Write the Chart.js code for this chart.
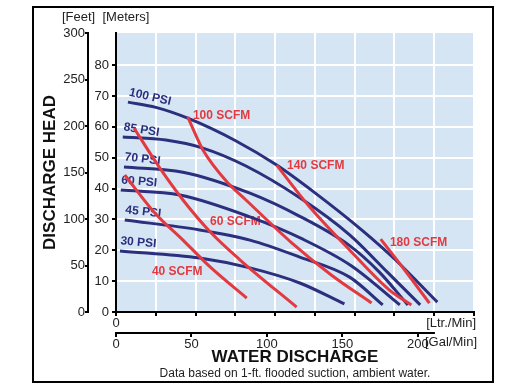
<!DOCTYPE html>
<html>
<head>
<meta charset="utf-8">
<script src="https://cdn.jsdelivr.net/npm/chart.js@4.4.1/dist/chart.umd.min.js"></script>
<style>
  html, body { margin: 0; padding: 0; background: #fff; }
  #wrap { width: 507px; height: 391px; }
</style>
</head>
<body>
<div id="wrap"><canvas id="pumpChart" width="507" height="391"></canvas></div>
<script>
// water flow in Ltr/Min, discharge head in meters

// air pressure curves
const psiNames = ["100 PSI", "85 PSI", "70 PSI", "60 PSI", "45 PSI", "30 PSI"];
const psi100Flow = [30, 100, 180, 300, 403, 500, 616, 700, 806];
const psi100Head = [68, 66.3, 62.8, 55.5, 47.6, 38.5, 26.6, 17, 3.2];
const psi85Flow = [17, 125, 218, 326, 461, 586, 680, 763];
const psi85Head = [56.7, 55.7, 53.1, 47.3, 37, 25, 13, 2.3];
const psi70Flow = [20, 168, 336, 461, 586, 660, 732];
const psi70Head = [47, 45.3, 38.5, 31, 21.5, 13, 2.3];
const psi60Flow = [12, 160, 336, 470, 590, 712];
const psi60Head = [39.5, 37.9, 30.8, 23.5, 15, 2.3];
const psi45Flow = [22, 210, 336, 461, 586, 669];
const psi45Head = [29.8, 26.6, 23.3, 17.8, 11.3, 2.3];
const psi30Flow = [10, 210, 336, 461, 573];
const psi30Head = [19.8, 17.5, 14.3, 9.4, 2.6];

// air consumption curves
const scfmNames = ["40 SCFM", "60 SCFM", "100 SCFM", "140 SCFM", "180 SCFM"];
const scfm40Flow = [22, 98, 168, 236, 328];
const scfm40Head = [44.4, 32, 23.3, 14.6, 4.5];
const scfm60Flow = [45, 108, 168, 236, 310, 453];
const scfm60Head = [59.6, 47, 36.3, 26, 17, 1.6];
const scfm100Flow = [180, 203, 218, 278, 326, 440, 540, 641];
const scfm100Head = [63.2, 56.5, 52.5, 42.2, 36.3, 22.5, 12, 2.9];
const scfm140Flow = [403, 486, 586, 686, 741];
const scfm140Head = [47.6, 34, 20.1, 7.1, 2.3];
const scfm180Flow = [664, 724, 786];
const scfm180Head = [23.6, 13.6, 2.9];

// where the SCFM names sit (flow, head)
const scfmLabelFlow = [90, 236, 193, 429, 687];
const scfmLabelHead = [13, 29.2, 63.5, 47.3, 22.3];

// axes
const flowMax = 898;          // Ltr/Min
const headMax = 90.4;         // meters
const feetMax = 300;
const galPerLtr = 1 / 3.785;
const flowTickLabels = ["0", "100", "200", "300", "400", "500", "600", "700"];
const meterTickLabels = ["0", "10", "20", "30", "40", "50", "60", "70", "80"];
const feetTickLabels = ["0", "50", "100", "150", "200", "250", "300"];
const galTickLabels = ["0", "50", "100", "150", "200"];

const BLUE = "#2b2f7d";
const RED = "#e23a40";
const PLOT_BG = "#d5e5f3";
const FONT = "'Liberation Sans', Arial, sans-serif";

Chart.defaults.font.family = FONT;

function pts(xs, ys) {
    return xs.map((x, i) => ({ x: x, y: ys[i] }));
}

const psiSeries = [
    [psi100Flow, psi100Head], [psi85Flow, psi85Head], [psi70Flow, psi70Head],
    [psi60Flow, psi60Head], [psi45Flow, psi45Head], [psi30Flow, psi30Head]
];
const scfmSeries = [
    [scfm40Flow, scfm40Head], [scfm60Flow, scfm60Head], [scfm100Flow, scfm100Head],
    [scfm140Flow, scfm140Head], [scfm180Flow, scfm180Head]
];

const psiTilt = [13, 9, 7, 5, 6, 5];

const datasets = [];
scfmSeries.forEach((s, i) => datasets.push({
    label: scfmNames[i], kind: "scfm", idx: i,
    data: pts(s[0], s[1]), borderColor: RED, borderWidth: 3, order: 0
}));
psiSeries.forEach((s, i) => datasets.push({
    label: psiNames[i], kind: "psi", idx: i,
    data: pts(s[0], s[1]), borderColor: BLUE, borderWidth: 3, order: 1
}));

/* ========== CURVE NAMES ========== */
const curveNames = {
    id: "curveNames",
    beforeDatasetsDraw(chart) {
        const { ctx } = chart;
        const xs = chart.scales.x, ys = chart.scales.y;
        ctx.save();
        ctx.font = "bold 12px " + FONT;
        chart.data.datasets.forEach((ds, i) => {
            if (ds.kind === "psi") {
                const p0 = chart.getDatasetMeta(i).data[0];
                ctx.save();
                ctx.translate(p0.x, p0.y - 4);
                ctx.rotate(psiTilt[ds.idx] * Math.PI / 180);
                ctx.fillStyle = BLUE;
                ctx.textAlign = "left";
                ctx.textBaseline = "bottom";
                ctx.fillText(ds.label, 0, 0);
                ctx.restore();
            } else {
                ctx.fillStyle = RED;
                ctx.textAlign = "left";
                ctx.textBaseline = "middle";
                ctx.fillText(ds.label,
                    xs.getPixelForValue(scfmLabelFlow[ds.idx]),
                    ys.getPixelForValue(scfmLabelHead[ds.idx]));
            }
        });
        ctx.restore();
    }
};

/* ========== BACKGROUND, FRAME, EXTRA TEXT ========== */
const decor = {
    id: "decor",
    beforeDraw(chart) {
        const { ctx, chartArea: a } = chart;
        ctx.save();
        ctx.fillStyle = "#fff";
        ctx.fillRect(0, 0, chart.width, chart.height);
        ctx.fillStyle = PLOT_BG;
        ctx.fillRect(a.left, a.top, a.right - a.left, a.bottom - a.top);
        ctx.restore();
    },
    afterDraw(chart) {
        const { ctx } = chart;
        const gal = chart.scales.xGal;
        ctx.save();
        // gallon axis line (stops at 800 Ltr/Min)
        ctx.strokeStyle = "#000";
        ctx.lineWidth = 2;
        ctx.beginPath();
        ctx.moveTo(gal.getPixelForValue(0) - 1, gal.top);
        ctx.lineTo(gal.getPixelForValue(800 * galPerLtr), gal.top);
        ctx.stroke();

        // frame
        ctx.lineWidth = 2;
        ctx.strokeRect(33, 7, 460, 375);

        ctx.fillStyle = "#222";
        ctx.font = "13px " + FONT;
        ctx.textBaseline = "middle";
        ctx.textAlign = "left";
        ctx.fillText("[Feet]  [Meters]", 62, 17);
        ctx.textAlign = "right";
        ctx.fillText("[Ltr./Min]", 476, 323);
        ctx.fillText("[Gal/Min]", 477, 342);

        ctx.textAlign = "center";
        ctx.font = "12px " + FONT;
        ctx.fillText("Data based on 1-ft. flooded suction, ambient water.", 295, 374);
        ctx.restore();
    }
};

const tickFont = { size: 13 };

new Chart(document.getElementById("pumpChart"), {
    type: "line",
    data: { datasets },
    options: {
        responsive: false,
        animation: false,
        devicePixelRatio: 1,
        layout: { padding: { left: 33, right: 33, top: 33, bottom: 23 } },
        elements: {
            point: { radius: 0 },
            line: { cubicInterpolationMode: "monotone", fill: false }
        },
        plugins: { legend: { display: false }, tooltip: { enabled: false } },
        scales: {
            x: {
                type: "linear", position: "bottom", weight: 0,
                min: 0, max: flowMax,
                ticks: {
                    stepSize: 100, includeBounds: false, autoSkip: false, maxRotation: 0,
                    padding: 0, color: "#222", font: tickFont,
                    callback: (v) => flowTickLabels[v / 100] || ""
                },
                grid: { color: "#fff", lineWidth: 2, tickColor: "#000", tickLength: 4 },
                border: { color: "#000", width: 2 },
                afterFit: (s) => { s.height = 21; }
            },
            xGal: {
                type: "linear", position: "bottom", weight: 1,
                min: 0, max: flowMax * galPerLtr,
                ticks: {
                    stepSize: 50, includeBounds: false, autoSkip: false, maxRotation: 0,
                    padding: 0, color: "#222", font: tickFont,
                    callback: (v) => galTickLabels[v / 50] || ""
                },
                grid: { drawOnChartArea: false, tickColor: "#000", tickLength: 4, lineWidth: 2 },
                border: { display: false },
                title: {
                    display: true, text: "WATER DISCHARGE", color: "#111",
                    font: { size: 17, weight: "bold" }, padding: { top: 0, bottom: 0 }
                },
                afterFit: (s) => { s.height = 35; }
            },
            y: {
                type: "linear", position: "left", weight: 0,
                min: 0, max: headMax,
                ticks: {
                    stepSize: 10, includeBounds: false, padding: 3, color: "#222", font: tickFont,
                    callback: (v) => meterTickLabels[v / 10] || ""
                },
                grid: {
                    color: (c) => c.tick && c.tick.value >= 90 ? "rgba(0,0,0,0)" : "#fff",
                    tickColor: (c) => c.tick && c.tick.value >= 90 ? "rgba(0,0,0,0)" : "#000",
                    lineWidth: 2, tickLength: 4
                },
                border: { color: "#000", width: 2 },
                afterFit: (s) => { s.width = 28; }
            },
            yFeet: {
                type: "linear", position: "left", weight: 1,
                min: 0, max: feetMax,
                ticks: {
                    stepSize: 50, padding: 0, color: "#222", font: tickFont,
                    callback: (v) => feetTickLabels[v / 50] || ""
                },
                grid: { drawOnChartArea: false, tickColor: "#000", tickLength: 3, lineWidth: 2 },
                border: { color: "#000", width: 2 },
                title: {
                    display: true, text: "DISCHARGE HEAD", color: "#111",
                    font: { size: 17, weight: "bold" }, padding: { top: 7, bottom: 0 }
                },
                afterFit: (s) => { s.width = 55; }
            }
        }
    },
    plugins: [decor, curveNames]
});
</script>
</body>
</html>
